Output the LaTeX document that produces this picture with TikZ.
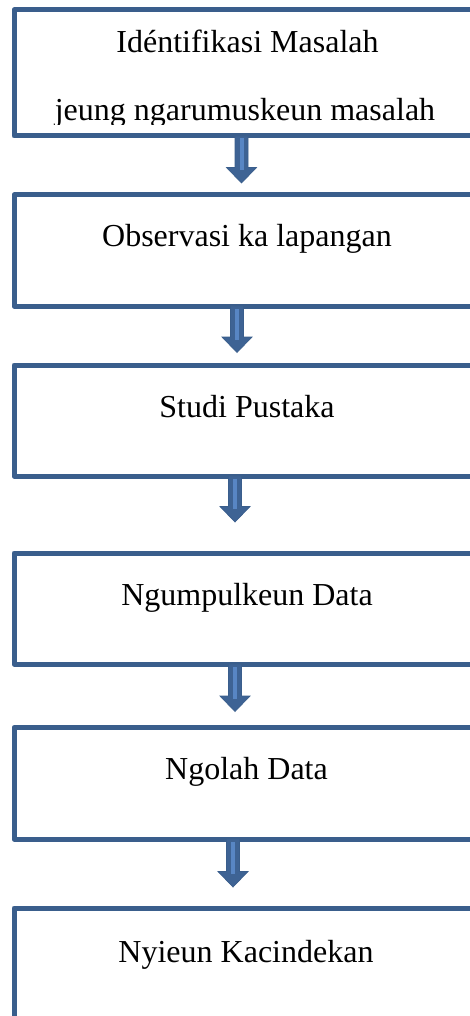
\documentclass[tikz,border=0pt]{standalone}
\usepackage{fontspec}
\setmainfont{Liberation Serif}
\usetikzlibrary{calc}
\definecolor{boxblue}{RGB}{58,94,140}
\definecolor{arrfill}{RGB}{62,99,148}
\definecolor{arrlight}{RGB}{88,134,196}
\tikzset{
  flowbox/.style={draw=boxblue, line width=5pt, rectangle, inner sep=0pt, outer sep=0pt,
    anchor=north west, minimum width=480pt, line join=round},
  flowtext/.style={anchor=base, inner sep=0pt, font=\fontsize{32pt}{38pt}\selectfont},
}
\newcommand\flowarrow[2]{%
  \path[fill=arrfill, draw=boxblue, line width=0.7pt, line join=miter] let \p1=(#1), \p2=(#2) in
    (\x1-6.5pt,\y1) -- (\x1+6.5pt,\y1) -- (\x1+6.5pt,\y2+15.5pt) -- (\x1+15pt,\y2+15.5pt)
    -- (\x1,\y2) -- (\x1-15pt,\y2+15.5pt) -- (\x1-6.5pt,\y2+15.5pt) -- cycle;
  \path[fill=arrlight] let \p1=(#1), \p2=(#2) in
    (\x1-2pt,\y1-2.5pt) rectangle (\x1+2pt,\y2+13pt);
}
\begin{document}
\begin{tikzpicture}[x=1pt,y=-1pt]
\useasboundingbox (0,0) rectangle (470,1016);
\clip (0,0) rectangle (470,1016);
\fill[white] (0,0) rectangle (470,1016);

% boxes
\node[flowbox, minimum height=126pt] (b1) at (14,10) {};
\node[flowbox, minimum height=111pt] (b2) at (14,195) {};
\node[flowbox, minimum height=111pt] (b3) at (14,365) {};
\node[flowbox, minimum height=111pt] (b4) at (14,553) {};
\node[flowbox, minimum height=111.5pt] (b5) at (14,727.5) {};
\node[flowbox, minimum height=200pt] (b6) at (14,908) {};

% texts
\node[flowtext] (t1a) at (247.5,53) {Idéntifikasi Masalah};
\begin{scope}
  \clip (0,0) rectangle (470,125);
  \node[flowtext] (t1b) at (245,120.5) {jeung ngarumuskeun masalah};
\end{scope}
\node[flowtext] (t2) at (247,246.7) {Observasi ka lapangan};
\node[flowtext] (t3) at (247,417) {Studi Pustaka};
\node[flowtext] (t4) at (247,605) {Ngumpulkeun Data};
\node[flowtext] (t5) at (246.5,779) {Ngolah Data};
\node[flowtext] (t6) at (246,962) {Nyieun Kacindekan};

% arrow tips
\coordinate (p1) at (241.5,183);
\coordinate (p2) at (237,352.5);
\coordinate (p3) at (235,522);
\coordinate (p4) at (235,711.5);
\coordinate (p5) at (233,887);

\flowarrow{b1.south -| p1}{p1}
\flowarrow{b2.south -| p2}{p2}
\flowarrow{b3.south -| p3}{p3}
\flowarrow{b4.south -| p4}{p4}
\flowarrow{b5.south -| p5}{p5}
\end{tikzpicture}
\end{document}
